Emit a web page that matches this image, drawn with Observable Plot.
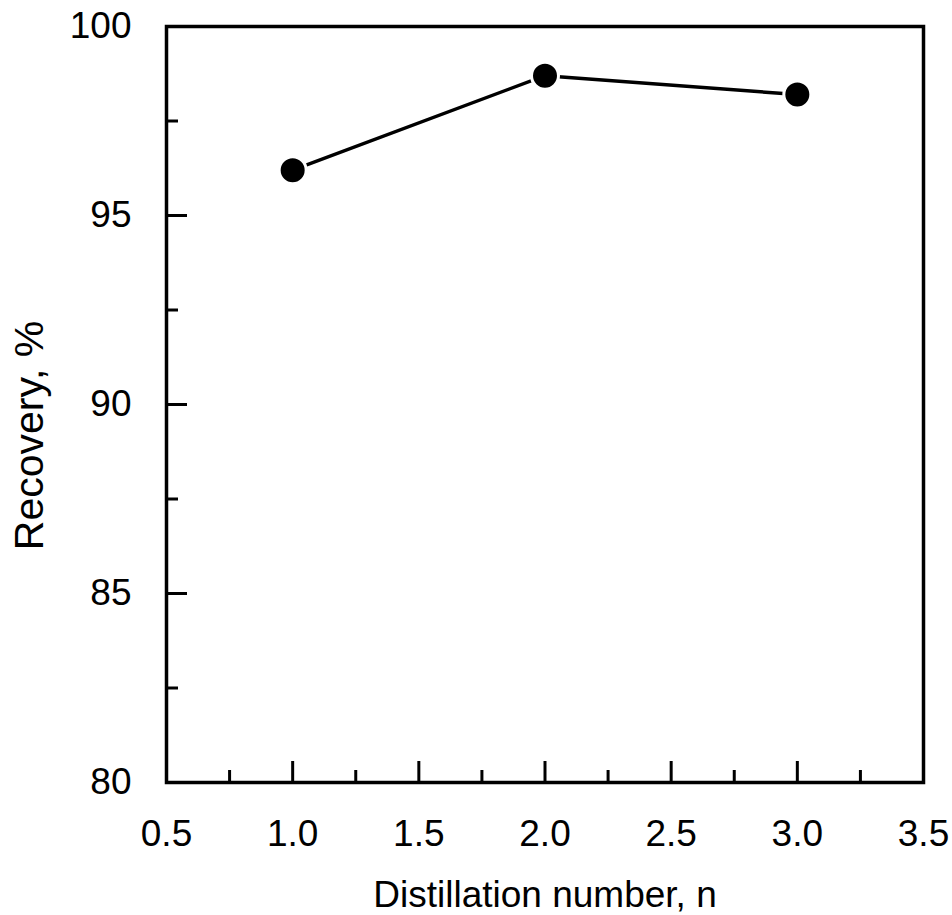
<!DOCTYPE html>
<html>
<head>
<meta charset="utf-8">
<script src="https://cdn.jsdelivr.net/npm/d3@7"></script>
<script src="https://cdn.jsdelivr.net/npm/@observablehq/plot@0.6"></script>
<style>
  html, body { margin: 0; padding: 0; background: #fff; }
  #chart svg { display: block; }
</style>
</head>
<body>
<div id="chart"></div>
<script>
const distillation = [1.0, 2.0, 3.0];
const recovery = [96.2, 98.7, 98.2];

const xMajorTicks = [0.5, 1.0, 1.5, 2.0, 2.5, 3.0, 3.5];
const xMinorTicks = [0.75, 1.25, 1.75, 2.25, 2.75, 3.25];
const yMajorTicks = [80, 85, 90, 95, 100];
const yMinorTicks = [82.5, 87.5, 92.5, 97.5];

const xTitle = "Distillation number, n";
const yTitle = "Recovery, %";

const data = distillation.map((n, i) => ({n, r: recovery[i]}));

const font = "'Liberation Sans', Arial, Helvetica, sans-serif";

const chart = Plot.plot({
  width: 952,
  height: 915,
  marginLeft: 166,
  marginRight: 29,
  marginTop: 26,
  marginBottom: 133,
  style: {fontFamily: font, color: "black", background: "white"},
  x: {domain: [0.5, 3.5]},
  y: {domain: [80, 100]},
  marks: [
    Plot.axisX(xMajorTicks, {tickSize: -21, tickPadding: 58, tickFormat: d3.format(".1f"), strokeWidth: 3, fontSize: 37, label: null}),
    Plot.axisX(xMinorTicks, {tickSize: -12, tickFormat: () => "", strokeWidth: 3, label: null}),
    Plot.axisY(yMajorTicks, {tickSize: -21, tickPadding: 56, tickFormat: d3.format("d"), strokeWidth: 3, fontSize: 37, label: null}),
    Plot.axisY(yMinorTicks, {tickSize: -12, tickFormat: () => "", strokeWidth: 3, label: null}),
    Plot.frame({strokeWidth: 3.5, stroke: "black"}),
    Plot.line(data, {x: "n", y: "r", stroke: "black", strokeWidth: 3.5}),
    Plot.dot(data, {x: "n", y: "r", r: 13.5, fill: "black", stroke: "white", strokeWidth: 3}),
    Plot.text([xTitle], {text: d => d, frameAnchor: "bottom", lineAnchor: "bottom", dy: 124, fontSize: 37, fill: "black"}),
    Plot.text([yTitle], {text: d => d, frameAnchor: "left", textAnchor: "middle", lineAnchor: "bottom", rotate: -90, dx: -124, dy: 31, fontSize: 41, fill: "black"})
  ]
});

document.getElementById("chart").appendChild(chart);
</script>
</body>
</html>
